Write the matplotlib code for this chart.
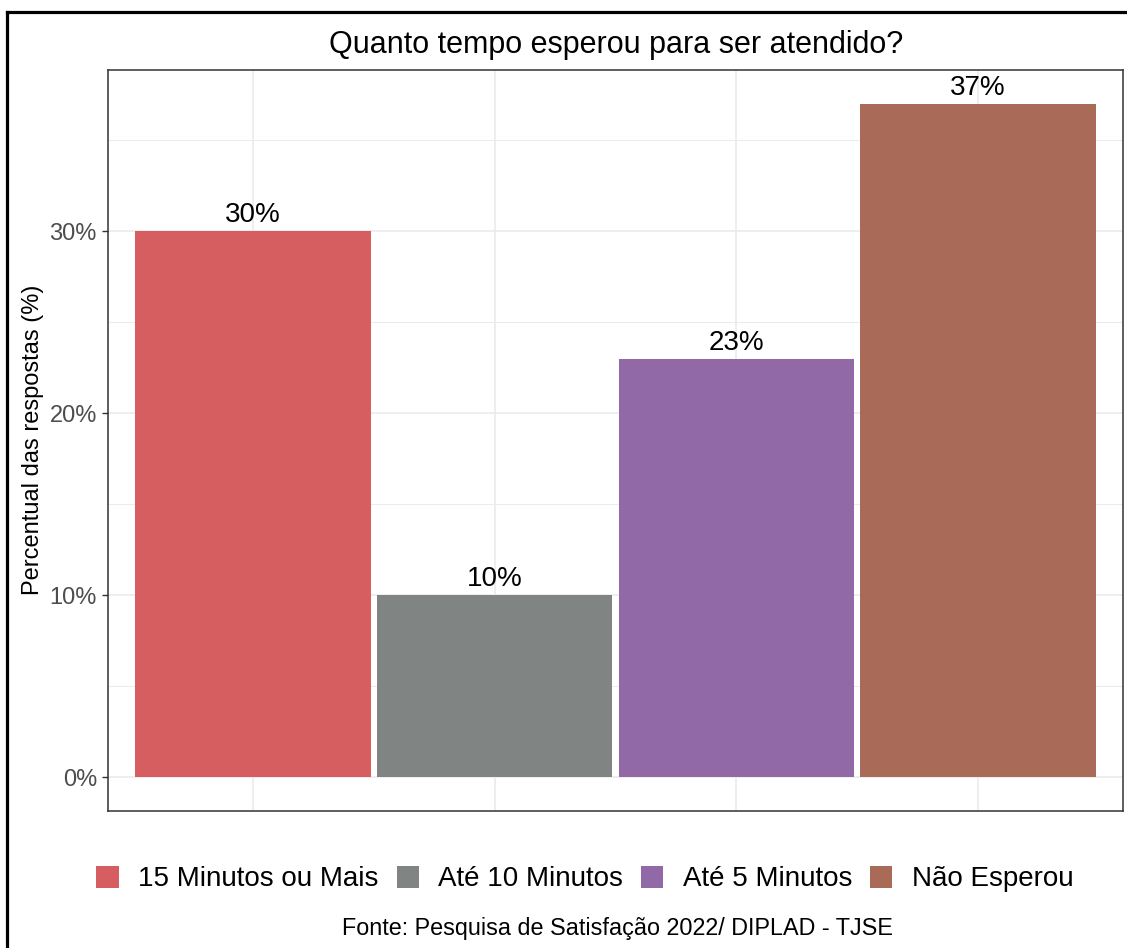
import matplotlib.pyplot as plt
from matplotlib.patches import Patch
from matplotlib.lines import Line2D
from matplotlib.ticker import MultipleLocator, FuncFormatter

plt.rcParams['font.family'] = ['Liberation Sans', 'DejaVu Sans']

# data
categorias = ["15 Minutos ou Mais", "Até 10 Minutos", "Até 5 Minutos", "Não Esperou"]
percentuais = [30, 10, 23, 37]
cores = ["#D65E60", "#808584", "#9169A7", "#AA6A58"]
titulo = "Quanto tempo esperou para ser atendido?"
ylabel = "Percentual das respostas (%)"
fonte = "Fonte: Pesquisa de Satisfação 2022/ DIPLAD - TJSE"

W, H = 1127, 948
fig = plt.figure(figsize=(W / 100, H / 100), dpi=100)
fig.patch.set_facecolor("white")

# panel in pixel coords
left, right, top, bottom = 108, 1123, 70, 811
ax = fig.add_axes([left / W, 1 - bottom / H, (right - left) / W, (bottom - top) / H])

x = list(range(len(categorias)))
ax.bar(x, percentuais, width=0.975, color=cores, zorder=3)

for xi, v in zip(x, percentuais):
    ax.annotate(f"{v}%", (xi, v), xytext=(0, 6.5), textcoords="offset points",
                ha="center", va="baseline", fontsize=20, color="black", zorder=4)

ymax = max(percentuais)
ax.set_xlim(-0.6, len(categorias) - 0.4)
ax.set_ylim(-0.05 * ymax, ymax * 1.05)

ax.yaxis.set_major_locator(MultipleLocator(10))
ax.yaxis.set_minor_locator(MultipleLocator(5))
ax.yaxis.set_major_formatter(FuncFormatter(lambda v, p: f"{v:.0f}%"))
ax.set_xticks(x)
ax.set_xticklabels([])
ax.tick_params(axis="x", length=0)
ax.tick_params(axis="y", which="major", length=4, width=1, color="#333333",
               labelsize=17, labelcolor="#4D4D4D", pad=4)
ax.tick_params(axis="y", which="minor", length=0)

ax.grid(True, which="major", color="#EBEBEB", linewidth=1.2, zorder=0)
ax.grid(True, which="minor", axis="y", color="#EBEBEB", linewidth=0.7, zorder=0)
ax.set_axisbelow(True)

for s in ax.spines.values():
    s.set_color("#333333")
    s.set_linewidth(1.1)

fig.text(616 / W, 1 - 53 / H, titulo, ha="center", va="baseline", fontsize=22)
fig.text(33 / W, 1 - 440 / H, ylabel, ha="center", va="center", rotation=90, fontsize=17)

handles = [Patch(facecolor=c, edgecolor="none") for c in cores]
fig.legend(handles, categorias, loc="center", bbox_to_anchor=(585 / W, 1 - 879 / H),
           ncol=4, frameon=False, fontsize=20, handlelength=0.8, handleheight=0.86,
           handletextpad=0.7, columnspacing=0.65, borderpad=0, borderaxespad=0)

fig.text(617 / W, 1 - 928 / H, fonte, ha="center", va="center", fontsize=16.8)

# moldura preta do recorte
fig.add_artist(Line2D([7 / W, 7 / W], [0, 1 - 12 / H], color="black", lw=2.3,
                      transform=fig.transFigure))
fig.add_artist(Line2D([7 / W, 1], [1 - 12 / H, 1 - 12 / H], color="black", lw=2.3,
                      transform=fig.transFigure))

fig.savefig("out.png", dpi=100)
